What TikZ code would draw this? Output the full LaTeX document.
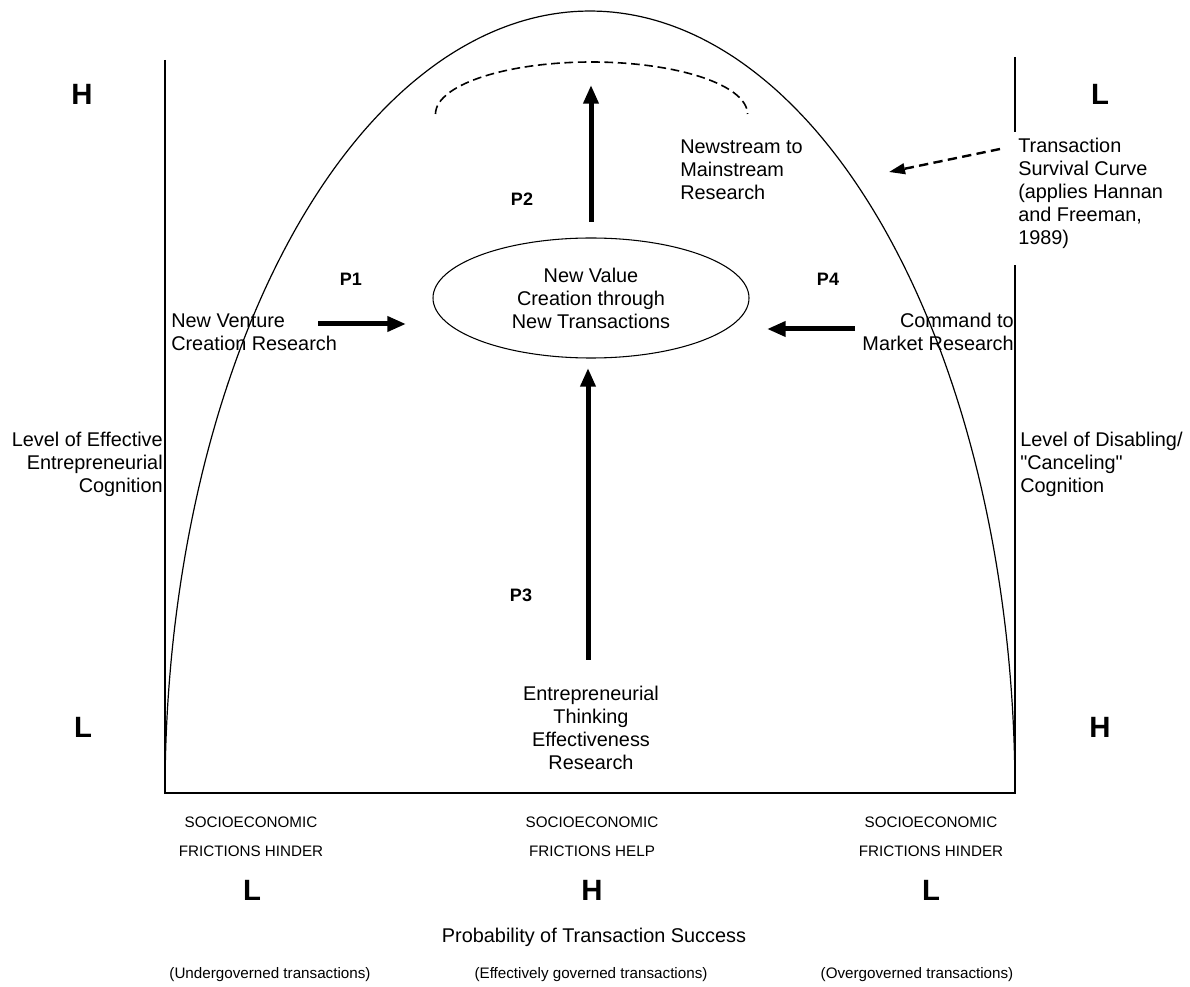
\documentclass[tikz,border=0pt]{standalone}
\usepackage{fontspec}
\setmainfont{Liberation Sans}[Ligatures=TeXOff]
\usetikzlibrary{arrows.meta,shapes.geometric}
\begin{document}
\begin{tikzpicture}[x=0.75pt,y=-0.75pt,
  txt/.style={inner sep=0pt, font=\fontsize{14.9pt}{17.25pt}\selectfont},
  small/.style={inner sep=0pt, font=\fontsize{11.4pt}{13pt}\selectfont},
  big/.style={inner sep=0pt, font=\fontsize{22pt}{26pt}\selectfont\bfseries},
  plab/.style={inner sep=0pt, font=\fontsize{13.5pt}{16pt}\selectfont\bfseries},
  axisline/.style={line width=1.5pt},
  curveline/.style={line width=0.9pt},
  fatarrow/.style={line width=3.75pt, -{Triangle[length=14pt,width=11pt]}},
]
\useasboundingbox (0,0) rectangle (1190,987);

% axes
\coordinate (lt) at (165,60);
\coordinate (o) at (165,793);
\coordinate (rb) at (1015,793);
\coordinate (rm) at (1015,265);
\coordinate (rt1) at (1015,57);
\coordinate (rt2) at (1015,132);
\draw[axisline] (lt) -- (o) -- (rb) -- (rm);
\draw[axisline] (rt1) -- (rt2);

% survival curve (half ellipse)
\draw[curveline] plot[domain=180:0, samples=150, smooth] ({590+425*cos(\x)},{793-782*sin(\x)});

% dashed arc
\draw[line width=1.2pt, dash pattern=on 6.5pt off 3.5pt] plot[domain=180:0, samples=60, smooth] ({591.5+156*cos(\x)},{114-52*sin(\x)});

% central ellipse
\node[ellipse, draw, line width=0.8pt, minimum width=237pt, minimum height=90pt, inner sep=0pt, txt, align=center] (core) at (591,298) {New Value\\Creation through\\New Transactions};

% arrows
\coordinate (p1s) at (318,324);
\coordinate (p1e) at (406,324);
\draw[fatarrow] (p1s) -- (p1e);
\coordinate (p4s) at (855,329);
\coordinate (p4e) at (767,329);
\draw[fatarrow] (p4s) -- (p4e);
\coordinate (p2s) at (591,222);
\coordinate (p2e) at (591,85);
\draw[fatarrow] (p2s) -- (p2e);
\coordinate (p3s) at (588,660);
\coordinate (p3e) at (588,368);
\draw[fatarrow] (p3s) -- (p3e);

% P labels
\node[plab] (P1) at (351,279) {P1};
\node[plab] (P2) at (522,199) {P2};
\node[plab] (P3) at (521,595) {P3};
\node[plab] (P4) at (828,279) {P4};

% text blocks
\node[txt, align=left, anchor=west] (nsm) at (680,170) {Newstream to\\Mainstream\\Research};
\node[txt, align=left, anchor=west] (tsc) at (1018,193) {Transaction\\Survival Curve\\(applies Hannan\\and Freeman,\\1989)};
\node[txt, align=left, anchor=west] (nvc) at (171,332) {New Venture\\Creation Research};
\node[txt, align=right, anchor=east] (cmr) at (1014,332) {Command to\\Market Research};
\node[txt, align=right, anchor=east] (lee) at (163,464) {Level of Effective\\Entrepreneurial\\Cognition};
\node[txt, align=left, anchor=west] (ldc) at (1020,464) {Level of Disabling/\\\char34 Canceling\char34\\Cognition};
\node[txt, align=center] (ete) at (591,728) {Entrepreneurial\\Thinking\\Effectiveness\\Research};

% dashed pointer
\coordinate (dps) at (1000,149);
\coordinate (dpe) at (889,172);
\draw[line width=1.8pt, dash pattern=on 7pt off 4pt, -{Triangle[length=12pt,width=8pt]}] (dps) -- (dpe);

% H / L markers
\node[big] (hl) at (82,94) {H};
\node[big] (lr) at (1100,94) {L};
\node[big] (ll) at (83,727) {L};
\node[big] (hr) at (1100,727) {H};

% bottom labels
\node[small] (s1) at (251,822) {SOCIOECONOMIC};
\node[small] (f1) at (251,851) {FRICTIONS HINDER};
\node[small] (s2) at (592,822) {SOCIOECONOMIC};
\node[small] (f2) at (592,851) {FRICTIONS HELP};
\node[small] (s3) at (931,822) {SOCIOECONOMIC};
\node[small] (f3) at (931,851) {FRICTIONS HINDER};
\node[big] (b1) at (252,890) {L};
\node[big] (b2) at (592,890) {H};
\node[big] (b3) at (931,890) {L};
\node[txt] (pts) at (594,937) {Probability of Transaction Success};
\node[small] (g1) at (270,975) {(Undergoverned transactions)};
\node[small] (g2) at (591,975) {(Effectively governed transactions)};
\node[small] (g3) at (917,975) {(Overgoverned transactions)};
\end{tikzpicture}
\end{document}
